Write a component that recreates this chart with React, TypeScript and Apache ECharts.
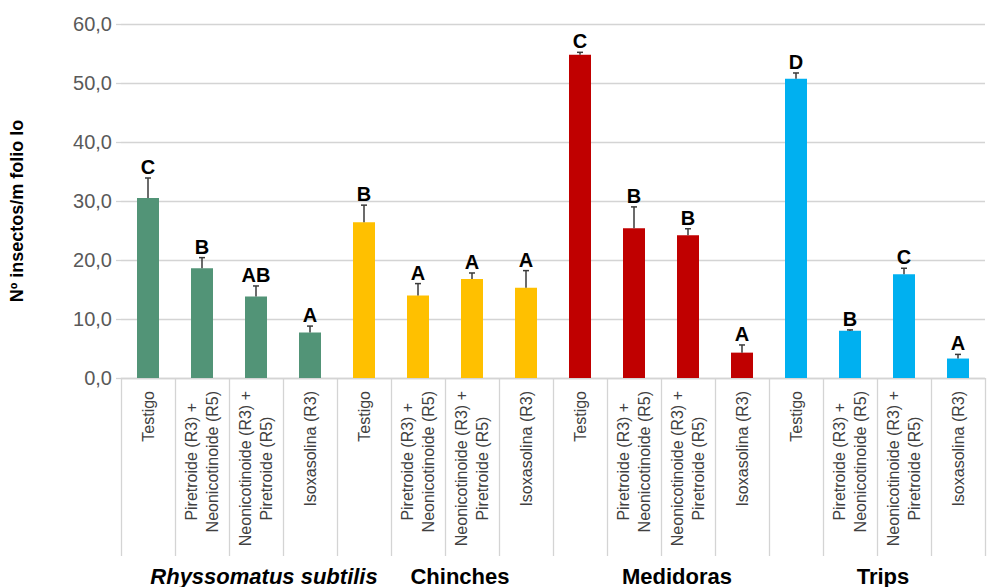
import React, { useEffect, useRef } from "react";
import * as echarts from "echarts";

const groups = ["Rhyssomatus subtilis", "Chinches", "Medidoras", "Trips"];
const treatments = [
  "Testigo",
  "Piretroide (R3) +\nNeonicotinoide (R5)",
  "Neonicotinoide (R3) +\nPiretroide (R5)",
  "Isoxasolina (R3)",
];
const rhyssomatusValues = [30.5, 18.6, 13.8, 7.7];
const chinchesValues = [26.4, 14.0, 16.8, 15.3];
const medidorasValues = [54.8, 25.4, 24.2, 4.3];
const tripsValues = [50.7, 8.0, 17.6, 3.3];

const rhyssomatusErrors = [3.4, 1.8, 1.8, 1.1];
const chinchesErrors = [2.9, 2.0, 1.0, 2.9];
const medidorasErrors = [0.4, 3.6, 1.1, 1.3];
const tripsErrors = [1.0, 0.15, 1.0, 0.7];

const rhyssomatusLetters = ["C", "B", "AB", "A"];
const chinchesLetters = ["B", "A", "A", "A"];
const medidorasLetters = ["C", "B", "B", "A"];
const tripsLetters = ["D", "B", "C", "A"];

const groupColors = ["#529477", "#FFC000", "#C00000", "#00B0F0"];
const yTicks = { min: 0, max: 60, interval: 10 };

const FONT = '"Liberation Sans", Arial, Helvetica, sans-serif';
const CAT_FONT_SIZE = 16;

function measure(text: string): number {
  const c = document.createElement("canvas").getContext("2d");
  if (!c) return text.length * 8;
  c.font = `${CAT_FONT_SIZE}px ${FONT}`;
  return c.measureText(text).width;
}

export default function App() {
  const ref = useRef<HTMLDivElement>(null);

  useEffect(() => {
    if (!ref.current) return;
    const chart = echarts.init(ref.current, null, { renderer: "svg" });

    const allValues = [rhyssomatusValues, chinchesValues, medidorasValues, tripsValues];
    const allErrors = [rhyssomatusErrors, chinchesErrors, medidorasErrors, tripsErrors];
    const allLetters = [rhyssomatusLetters, chinchesLetters, medidorasLetters, tripsLetters];

    const categories: string[] = [];
    const barData: any[] = [];
    const errData: any[] = [];
    const letters: string[] = [];
    groups.forEach((g, gi) => {
      treatments.forEach((t, ti) => {
        const idx = categories.length;
        categories.push(t);
        barData.push({ value: allValues[gi][ti], itemStyle: { color: groupColors[gi] } });
        errData.push([idx, allValues[gi][ti], allErrors[gi][ti]]);
        letters.push(allLetters[gi][ti]);
      });
    });

    // Build rich tokens so that lines of multi-line labels are centred.
    const rich: any = {};
    const labelFormat: Record<string, string> = {};
    let tokenId = 0;
    treatments.forEach((t) => {
      const lines = t.split("\n");
      const widths = lines.map(measure);
      const maxW = Math.max(...widths);
      labelFormat[t] = lines
        .map((line, li) => {
          const name = "t" + tokenId++;
          const pad = (maxW - widths[li]) / 2;
          rich[name] = {
            fontSize: CAT_FONT_SIZE,
            fontFamily: FONT,
            color: "#404040",
            lineHeight: 21,
            padding: [0, pad, 0, pad],
          };
          return "{" + name + "|" + line + "}";
        })
        .join("\n");
    });

    const groupShift = [70, 30, 32, 12];

    const option: any = {
      animation: false,
      grid: { left: 117, right: 9, top: 24, bottom: 208, containLabel: false },
      xAxis: [
        {
          type: "category",
          data: categories,
          axisLine: { show: true, lineStyle: { color: "#d4d4d4", width: 1.3 } },
          axisTick: {
            show: true,
            interval: 0,
            length: 178,
            inside: false,
            lineStyle: { color: "#d4d4d4", width: 1.3 },
          },
          axisLabel: {
            interval: 0,
            rotate: 90,
            margin: 13,
            formatter: (v: string) => labelFormat[v] || v,
            rich,
            fontSize: CAT_FONT_SIZE,
            fontFamily: FONT,
            color: "#404040",
            lineHeight: 21,
          },
        },
        {
          type: "category",
          position: "bottom",
          gridIndex: 0,
          data: groups.map((g, i) => ({
            value: g,
            textStyle: {
              fontStyle: i === 0 ? "italic" : "normal",
              padding: [0, 0, 0, groupShift[i]],
            },
          })),
          axisLine: { show: false },
          axisTick: { show: false },
          axisLabel: {
            interval: 0,
            margin: 187,
            fontSize: 22,
            fontWeight: "bold",
            fontFamily: FONT,
            color: "#000",
            lineHeight: 22,
          },
        },
      ],
      yAxis: {
        type: "value",
        min: yTicks.min,
        max: yTicks.max,
        interval: yTicks.interval,
        name: "Nº insectos/m folio lo",
        nameLocation: "middle",
        nameRotate: 90,
        nameGap: 95,
        nameTextStyle: {
          fontSize: 18,
          fontWeight: "bold",
          fontFamily: FONT,
          color: "#000",
          padding: [0, 20, 0, 0],
        },
        axisLine: { show: false },
        axisTick: { show: true, length: 5, lineStyle: { color: "#d4d4d4", width: 1.3 } },
        splitLine: { show: true, lineStyle: { color: "#d4d4d4", width: 1.3 } },
        axisLabel: {
          margin: 9,
          fontSize: 20,
          fontFamily: FONT,
          color: "#595959",
          formatter: (v: number) => v.toFixed(1).replace(".", ","),
        },
      },
      series: [
        {
          type: "bar",
          data: barData,
          barWidth: 22,
          xAxisIndex: 0,
        },
        {
          type: "custom",
          xAxisIndex: 0,
          data: errData,
          z: 5,
          renderItem: (params: any, api: any) => {
            const x = api.value(0);
            const v = api.value(1);
            const e = api.value(2);
            const base = api.coord([x, v]);
            const top = api.coord([x, v + e]);
            const stroke = { stroke: "#3a3a3a", lineWidth: 1.5 };
            return {
              type: "group",
              children: [
                { type: "line", shape: { x1: base[0], y1: base[1], x2: top[0], y2: top[1] }, style: stroke },
                { type: "line", shape: { x1: top[0] - 3, y1: top[1], x2: top[0] + 3, y2: top[1] }, style: stroke },
                {
                  type: "text",
                  x: top[0],
                  y: top[1] - 1,
                  style: {
                    text: letters[params.dataIndex],
                    fill: "#000",
                    fontSize: 20,
                    fontWeight: "bold",
                    fontFamily: FONT,
                    align: "center",
                    verticalAlign: "bottom",
                  },
                },
              ],
            };
          },
        },
      ],
    };

    chart.setOption(option);
    return () => chart.dispose();
  }, []);

  return <div ref={ref} style={{ width: 994, height: 587, position: "absolute", left: 0, top: 0 }} />;
}
